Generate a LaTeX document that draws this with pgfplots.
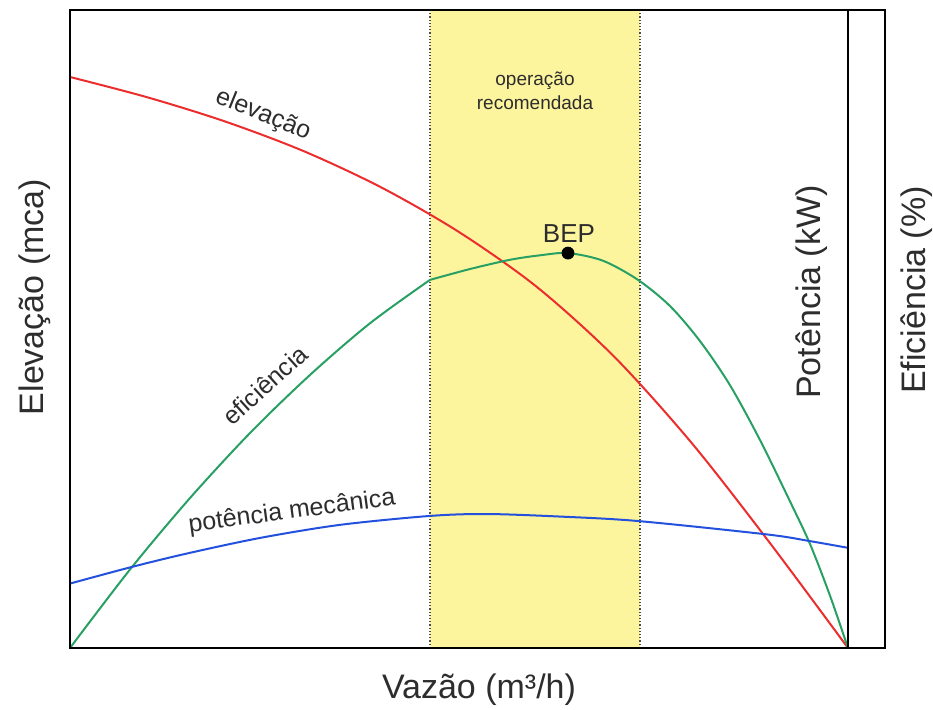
\documentclass[border=0pt]{standalone}
\usepackage{pgfplots}
\pgfplotsset{compat=1.18}
\usepackage{fontspec}
\setmainfont{Liberation Sans}
\definecolor{cred}{RGB}{235,45,45}
\definecolor{cgreen}{RGB}{40,160,100}
\definecolor{cblue}{RGB}{35,80,220}
\definecolor{band}{RGB}{253,245,158}
\definecolor{txt}{RGB}{45,45,45}
\begin{document}
\begin{tikzpicture}
\begin{axis}[
  scale only axis, width=389pt, height=319pt,
  xmin=0, xmax=100, ymin=0, ymax=100,
  xtick=\empty, ytick=\empty,
  axis line style={line width=1.3pt, black},
  axis on top=true,
  clip=false,
]
\fill[band] (axis cs:46.27,0) rectangle (axis cs:73.26,100);
\draw[densely dotted, line width=0.6pt, black!70] (axis cs:46.27,0) -- (axis cs:46.27,100);
\draw[densely dotted, line width=0.6pt, black!70] (axis cs:73.26,0) -- (axis cs:73.26,100);
\addplot[cred, line width=1pt, smooth] coordinates {
(0,89.5) (10,86.3) (20,82.5) (30,77.9) (40,72.2) (50,65.2) (60,56.6)
(70,45.6) (80,32.0) (90,16.4) (100,0)};
\addplot[cgreen, line width=1pt, smooth] coordinates {
(0,0) (7.71,12.3) (15.42,23.5) (23.14,33.7) (30.85,42.8) (38.56,50.9)
(46.27,57.7)};
\addplot[cgreen, line width=1pt, smooth] coordinates {
(46.27,57.7) (51.41,59.4) (56.56,60.85) (60.41,61.55) (64.01,61.9)
(68.51,60.7) (73.01,57.7) (77.12,53.6) (80.98,48.1) (84.83,41.2)
(88.69,32.6) (92.54,23.0) (95.12,16.3) (97.69,8.2) (100,0)};
\addplot[cblue, line width=1pt, smooth] coordinates {
(0,10.1) (7.93,12.7) (15,14.8) (24.42,17.25) (34.7,19.3) (46.27,20.7)
(53.56,21.0) (62.98,20.6) (73.01,19.9) (89.59,17.8) (95.12,16.75) (100,15.7)};
\addplot[only marks, mark=*, mark size=3pt, black] coordinates {(64.01,61.9)};
\draw[line width=1.3pt, black] (axis cs:100,0) rectangle (axis cs:104.76,100);
% texts
\node[txt, font=\fontsize{13pt}{15pt}\selectfont] at (axis cs:64.14,65.0) {BEP};
\node[txt, font=\fontsize{9.5pt}{12pt}\selectfont, align=center] at (axis cs:59.77,87.3) {operação\\recomendada};
\node[txt, font=\fontsize{12.5pt}{15pt}\selectfont, rotate=-22] at (axis cs:24.81,83.5) {elevação};
\node[txt, font=\fontsize{12.5pt}{15pt}\selectfont, rotate=42] at (axis cs:25.06,41.2) {eficiência};
\node[txt, font=\fontsize{12.5pt}{15pt}\selectfont, rotate=7.6] at (axis cs:28.53,21.3) {potência mecânica};
\node[txt, font=\fontsize{17pt}{20pt}\selectfont] at (axis cs:52.57,-6.58) {Vazão (m³/h)};
\node[txt, font=\fontsize{17pt}{20pt}\selectfont, rotate=90] at (axis cs:-4.50,55.0) {Elevação (mca)};
\node[txt, font=\fontsize{17pt}{20pt}\selectfont, rotate=90] at (axis cs:95.37,55.8) {Potência (kW)};
\node[txt, font=\fontsize{17pt}{20pt}\selectfont, rotate=90] at (axis cs:108.87,56.1) {Eficiência (\%)};
\coordinate (BL) at (axis cs:-9.0,-9.72);
\coordinate (TR) at (axis cs:110.93,101.57);
\end{axis}
\pgfresetboundingbox
\path (BL) rectangle (TR);
\end{tikzpicture}
\end{document}
